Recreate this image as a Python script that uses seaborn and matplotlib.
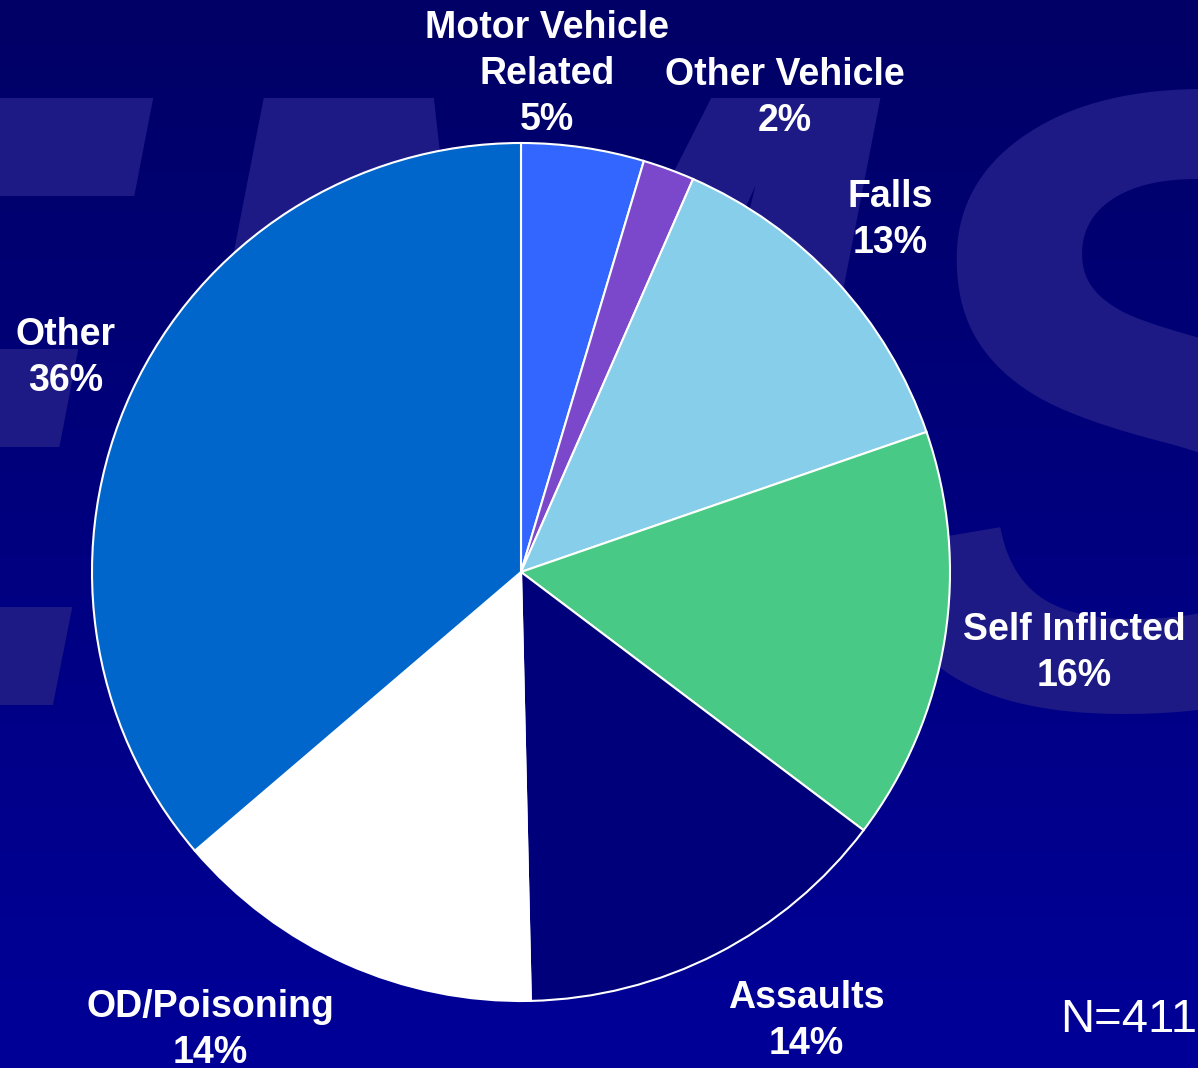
import numpy as np
import matplotlib
matplotlib.use("Agg")
import matplotlib.pyplot as plt
import seaborn as sns

# Injury mechanism counts (N=411)
categories = ["Motor Vehicle\nRelated", "Other Vehicle", "Falls", "Self Inflicted",
              "Assaults", "OD/Poisoning", "Other"]
counts = [19, 8, 54, 64, 59, 58, 149]
colors = ["#3366ff", "#7b48cc", "#87ceeb", "#48c986", "#00007a", "#ffffff", "#0066cc"]

# label anchor points (pixel coords, y from top)
label_pos = [(547, 74), (785, 98), (890, 220), (1074, 653),
             (806, 1021), (210, 1030), (66, 358)]

W, H = 1198, 1068
sns.set_style("white")
plt.rcParams["font.family"] = ["Liberation Sans", "DejaVu Sans"]

fig = plt.figure(figsize=(W / 100, H / 100), dpi=100)
ax = fig.add_axes([0, 0, 1, 1])
ax.set_xlim(0, W)
ax.set_ylim(0, H)
ax.set_aspect("equal")
ax.axis("off")

# background gradient, dark navy at the top to brighter blue at the bottom
grad = np.linspace(0, 1, 256).reshape(-1, 1)
cmap = matplotlib.colors.LinearSegmentedColormap.from_list("bg", ["#000098", "#000066"])
ax.imshow(grad, extent=[0, W, 0, H], origin="lower", cmap=cmap, aspect="auto", zorder=0)

# faint watermark letters behind the chart
ax.text(-458, H - 705, "EMS", fontsize=635, fontweight="bold", fontstyle="italic",
        color="#1d1a86", ha="left", va="baseline", zorder=1)

total = sum(counts)
ax.pie(counts, colors=colors, startangle=90, counterclock=False,
       center=(521, H - 572), radius=429, frame=True,
       wedgeprops=dict(edgecolor="white", linewidth=1.5, zorder=2))
ax.set_xlim(0, W)
ax.set_ylim(0, H)
ax.axis("off")

for name, c, (x, y) in zip(categories, counts, label_pos):
    pct = round(100 * c / total)
    ax.text(x, H - y, f"{name}\n{pct}%", ha="center", va="center", linespacing=1.36,
            fontsize=27, fontweight="bold", color="white", zorder=3)

ax.text(1197, H - 1020, f"N={total}", ha="right", va="center",
        fontsize=34, color="white", zorder=3)

fig.savefig("out.png", dpi=100)
